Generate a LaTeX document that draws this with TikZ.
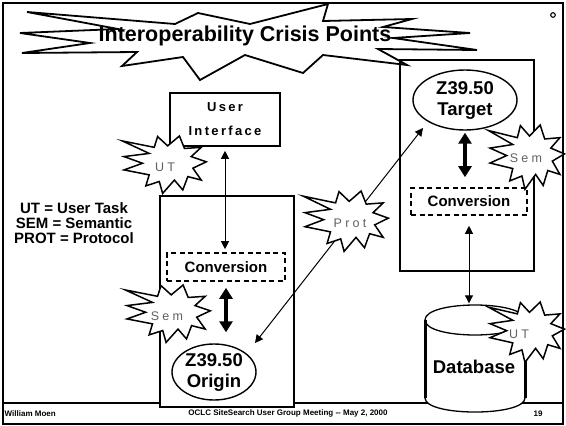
\documentclass[tikz,border=0pt]{standalone}
\usepackage{fontspec}
\setmainfont{Liberation Sans}
\newfontfamily\spacedfont[LetterSpace=18]{Liberation Sans}
\newfontfamily\widefont[LetterSpace=26]{Liberation Sans}
\usetikzlibrary{arrows.meta,shapes.geometric,calc}

\tikzset{
  frameline/.style={line width=1.8pt},
  boxnode/.style={draw, line width=1.6pt, fill=white, inner sep=0pt},
  convbox/.style={draw, dash pattern=on 5pt off 3.5pt, line width=1.6pt, fill=white,
    inner sep=0pt, font=\bfseries\fontsize{15}{18}\selectfont},
  zell/.style={draw, ellipse, line width=1.4pt, fill=white, inner sep=-10pt, align=center,
    font=\bfseries\fontsize{18.5}{21}\selectfont},
  thinarrow/.style={line width=1pt, {Triangle[length=8pt,width=8pt]}-{Triangle[length=8pt,width=8pt]}},
  thickarrow/.style={line width=3.2pt, {Triangle[length=11pt,width=13pt]}-{Triangle[length=11pt,width=13pt]}},
  burstline/.style={draw, fill=white, line width=1.5pt},
  burstlabel/.style={text=black!62, inner sep=0pt, font=\widefont\fontsize{12.5}{14}\selectfont},
  footer/.style={inner sep=0pt, font=\bfseries\fontsize{8}{9.6}\selectfont},
  burst/.pic={
    \path[burstline] (0.32,-1.0) -- (0.44,-0.57) -- (0.84,-0.61) -- (0.6,-0.29) -- (0.96,-0.11)
      -- (0.64,0.11) -- (0.84,0.52) -- (0.52,0.40) -- (0.4,0.86) -- (0.2,0.52) -- (-0.08,0.98)
      -- (-0.16,0.57) -- (-0.48,0.72) -- (-0.4,0.34) -- (-1.0,0.17) -- (-0.56,-0.06) -- (-1.0,-0.29)
      -- (-0.4,-0.40) -- (-1.04,-0.83) -- (-0.28,-0.61) -- (-0.2,-0.98) -- (0.04,-0.66) -- cycle;
  }
}

\begin{document}
\begin{tikzpicture}[x=1pt, y=-1pt]
\useasboundingbox (0,0) rectangle (566,426);
\fill[white] (0,0) rectangle (566,426);

% slide frame and footer
\draw[frameline] (3,3) rectangle (563,424);
\draw[line width=1.4pt] (3,403) -- (563,403);
\node[footer, anchor=west] (author) at (4.5,413.5) {William Moen};
\node[footer] (meeting) at (288,413.5) {OCLC SiteSearch User Group Meeting -{}- May 2, 2000};
\node[footer] (page) at (538,413.5) {19};
\draw[line width=1.1pt] (553,15) circle[radius=2.3pt];

% the two systems
\node[boxnode, minimum width=134pt, minimum height=211pt] (originbox) at (227,301.5) {};
\node[boxnode, minimum width=134pt, minimum height=211pt] (targetbox) at (467,165.5) {};
\node[boxnode, minimum width=110pt, minimum height=53pt, align=center,
      font=\spacedfont\bfseries\fontsize{13}{24}\selectfont] (ui) at (225,119.5) {User\\Interface};

\node[convbox, minimum width=118pt, minimum height=28pt] (conv1) at (226,267) {Conversion};
\node[convbox, minimum width=116pt, minimum height=27pt] (conv2) at (469,201.5) {Conversion};

\node[zell, minimum width=84pt, minimum height=56pt] (origin) at (214,372) {Z39.50\\Origin};
\node[zell, minimum width=104pt, minimum height=60pt] (target) at (465,100) {Z39.50\\Target};

% database cylinder
\node[minimum width=100pt, minimum height=108pt, inner sep=0pt] (db) at (475,358.5) {};
\path[fill=white] (425,320) -- (425,398) .. controls (425,416.7) and (525,416.7) .. (525,398)
  -- (525,320) .. controls (525,300) and (425,300) .. cycle;
\draw[line width=1.3pt] (425,398) .. controls (425,416.7) and (525,416.7) .. (525,398);
\draw[line width=1.3pt] (525,320) .. controls (525,300) and (425,300) .. (425,320);
\draw[line width=1.3pt] (425,320) .. controls (425,340) and (525,340) .. (525,320);
\draw[line width=3pt] (425,320) -- (425,398);
\draw[line width=3pt] (525,320) -- (525,398);

% connectors
\draw[thinarrow, shorten <=4pt, shorten >=3pt] (ui.south) -- (ui.south |- conv1.north);
\draw[thickarrow, shorten <=6pt, shorten >=11pt] (conv1.south) -- (conv1.south |- origin.north);
\draw[thickarrow, shorten <=2pt, shorten >=10pt] (target.south) -- (target.south |- conv2.north);
\draw[thinarrow, shorten <=10pt, shorten >=1pt] (conv2.south) -- (conv2.south |- db.north);
\draw[thinarrow] ($(origin.center)+(41,-29)$) -- ($(target.center)+(-42,28)$);

% title burst
\draw[line width=1.8pt] (27,12) -- (175,24) -- (198,13) -- (250,24) -- (328,4) -- (323,21)
  -- (412,19) -- (383,27) -- (470,33) -- (393,38) -- (477,50) -- (378,49) -- (407,65)
  -- (323,55) -- (303,73) -- (245,55) -- (200,80) -- (183,57) -- (122,66) -- (137,52)
  -- (22,53) -- (90,43) -- (20,33) -- (118,29) -- cycle;
\node[font=\bfseries\fontsize{21.5}{24}\selectfont, inner sep=0pt] (title) at (245,36) {Interoperability Crisis Points};

% legend
\node[font=\bfseries\fontsize{15}{15}\selectfont, align=center, inner sep=0pt] (legend) at (74,223)
  {UT = User Task\\SEM = Semantic\\PROT = Protocol};

% crisis bursts
\pic[xscale=42, yscale=29] (burstUTa) at (166,165) {burst};
\node[burstlabel] (labUTa) at (165,167) {UT};
\pic[xscale=42.5, yscale=29] (burstSEMa) at (169.5,314) {burst};
\node[burstlabel] (labSEMa) at (167,316) {Sem};
\pic[xscale=42.5, yscale=30.5] (burstPROT) at (347.5,221.5) {burst};
\node[burstlabel] (labPROT) at (350,223) {Prot};
\pic[xscale=38, yscale=32.5] (burstSEMb) at (528,157.5) {burst};
\node[burstlabel] (labSEMb) at (526,158) {Sem};
\pic[xscale=38, yscale=30.5] (burstUTb) at (528,332.5) {burst};
\node[burstlabel] (labUTb) at (519,334) {UT};

\node[font=\bfseries\fontsize{18.5}{20}\selectfont, inner sep=0pt] (dbname) at (474,367) {Database};
\end{tikzpicture}
\end{document}
